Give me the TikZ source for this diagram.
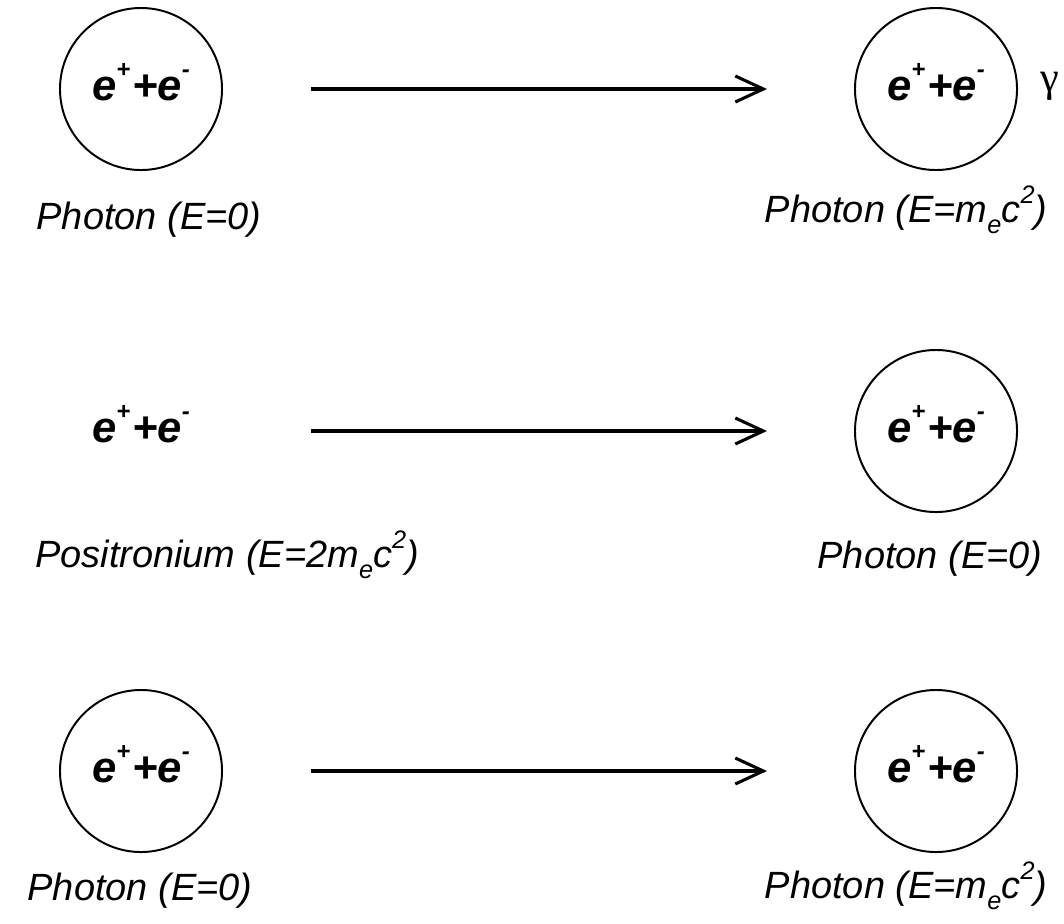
\documentclass[tikz,border=0pt]{standalone}
\usepackage{fontspec}
\setmainfont{Liberation Sans}
\newfontfamily\grkfont{Liberation Serif}
\usetikzlibrary{arrows.meta,positioning}
\tikzset{
    pair/.style = {draw, circle, line width=1.4pt,
        minimum size=4.05cm, inner sep=0pt,
        font=\fontsize{31}{31}\selectfont\bfseries\itshape,
        text height=16pt, text depth=0pt},
    bare/.style = {pair, draw=none},
    lab/.style = {anchor=base, inner sep=0pt,
        font=\fontsize{27}{28}\selectfont\itshape},
    line/.style = {-{Straight Barb[length=7mm,width=6.5mm]}, line width=2.2pt,
        shorten <=2.2cm, shorten >=2.175cm}
}
% charge signs over e, index and power in the labels
\newcommand{\chg}[1]{\raisebox{0.52em}{\fontsize{17}{17}\selectfont #1}}
\newcommand{\ee}{e\chg{+}\kern0.04em+e\chg{-}}
\newcommand{\mec}{m\raisebox{-0.3em}{\fontsize{18}{18}\selectfont e}c\raisebox{0.5em}{\fontsize{18}{18}\selectfont 2}}

\begin{document}
\begin{tikzpicture}[x=0.025cm, y=-0.025cm]
\useasboundingbox (0,0) rectangle (1064,923);

% first row
\node[pair] (a1) at (141,89) {\ee};
\node[pair] (b1) at (936,89) {\ee};
\node[lab] (la1) at (149,229) {Photon (E=0)};
\node[lab] (lb1) at (906,222) {Photon (E=\mec)};
\node[font=\fontsize{30}{30}\selectfont\grkfont, inner sep=0pt] (g1) at (1050,86) {γ};
\draw[line] (a1) -- (b1);

% second row
\node[bare] (a2) at (141,431) {\ee};
\node[pair] (b2) at (936,431) {\ee};
\node[lab] (la2) at (227,567) {Positronium (E=2\mec)};
\node[lab] (lb2) at (930,568) {Photon (E=0)};
\draw[line] (a2) -- (b2);

% third row
\node[pair] (a3) at (141,771) {\ee};
\node[pair] (b3) at (936,771) {\ee};
\node[lab] (la3) at (140,900) {Photon (E=0)};
\node[lab] (lb3) at (906,898) {Photon (E=\mec)};
\draw[line] (a3) -- (b3);
\end{tikzpicture}
\end{document}
